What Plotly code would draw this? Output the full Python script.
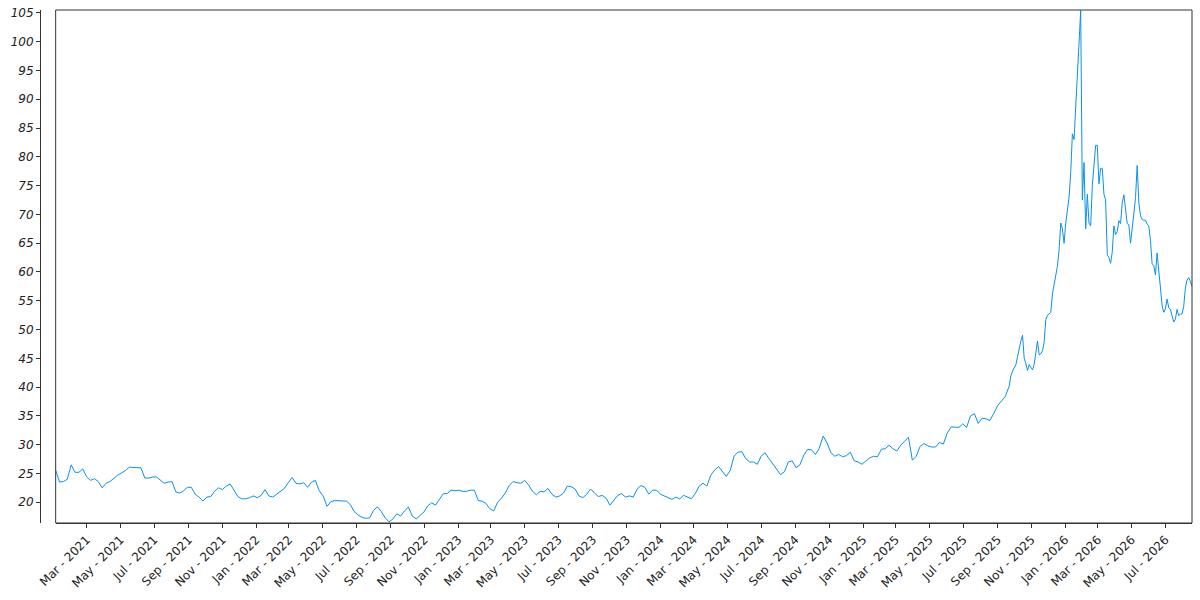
import pandas as pd
import plotly.graph_objects as go

# weekly readings, Jan 2021 -> Sep 2025
weekly_start = "2021-01-04"
weekly_vals = [
    25.6, 23.5, 23.6, 24.0, 26.5, 25.2, 25.2, 25.8, 24.4, 23.8,
    24.1, 23.6, 22.5, 23.3, 23.6, 24.2, 24.7, 25.1, 25.5, 26.1,
    26.0, 26.0, 26.0, 24.2, 24.2, 24.4, 24.4, 23.9, 23.3, 23.5,
    23.6, 21.8, 21.6, 22.0, 22.6, 22.6, 21.4, 20.9, 20.2, 20.9,
    21.0, 21.9, 22.5, 22.2, 22.8, 23.2, 22.2, 21.0, 20.6, 20.6,
    20.8, 21.1, 20.8, 21.2, 22.2, 21.1, 20.9, 21.4, 21.9, 22.4,
    23.4,
    24.3, 23.3, 23.2, 23.4, 22.6, 23.5, 23.8, 22.0, 21.1, 19.3,
    20.1, 20.3, 20.3, 20.2, 20.2, 19.6, 18.4, 17.8, 17.4, 17.2,
    17.3, 18.6, 19.2, 18.4, 17.3, 16.6, 17.1, 18.0, 17.6, 18.5,
    19.2, 17.6, 17.1, 17.7, 18.3, 19.4, 19.9, 19.5, 20.6, 21.5,
    21.5, 22.1, 22.0, 22.1, 21.9, 21.9, 22.1, 22.1, 20.3, 20.2,
    19.8, 18.9, 18.5, 20.0, 20.7, 21.6, 22.9, 23.6, 23.4, 23.3,
    23.8, 23.0,
    21.9, 21.3, 21.9, 21.8, 22.4, 21.4, 20.9, 21.1, 21.6, 22.8,
    22.7, 22.3, 21.1, 20.8, 21.4, 22.3, 21.6, 21.0, 21.2, 20.7,
    19.5, 20.3, 21.2, 21.5, 20.9, 21.1, 20.9, 22.3, 22.9, 22.6,
    21.4, 22.1, 22.1, 21.4, 21.1, 20.8, 20.5, 20.9, 20.6, 21.2,
    20.9, 20.6, 21.5, 22.8, 23.3, 22.8, 24.7, 25.6, 26.2, 25.4,
    24.5, 25.5, 28.0, 28.7, 28.8, 27.6, 27.0, 27.0, 26.6, 28.0,
    28.6, 27.6,
    26.7, 25.7, 24.8, 25.3, 27.0, 27.2, 26.0, 26.5, 28.2, 29.2,
    29.1, 28.3, 29.4, 31.5, 30.3, 28.6, 28.0, 28.3, 27.9, 28.1,
    28.7, 27.2, 27.0, 26.6, 27.1, 27.7, 28.0, 27.9, 29.2, 29.3,
    29.9, 29.3, 28.9, 29.9, 30.6, 31.3, 27.3, 28.0, 29.7, 30.2,
    29.8, 29.6, 29.6, 30.4, 30.1, 32.0, 33.1, 33.1, 33.0, 33.6,
    33.0, 35.0, 35.4, 33.7, 34.6, 34.5, 34.2, 35.4, 36.8, 37.6,
    38.4, 40.2,
]

# denser readings (every 3 days) for the spike, Sep 2025 -> Aug 2026
tail_start = "2025-09-25"
tail_vals = [
    42.0, 42.8, 43.5, 43.9, 45.3, 46.9, 48.0, 49.0, 45.0, 44.1,
    42.9, 43.9, 43.5, 43.0, 43.9, 46.5, 48.0, 45.6, 45.8, 46.3,
    47.8, 51.7, 52.5, 52.7, 53.0, 56.2, 57.9, 59.1, 61.0, 63.8,
    68.5, 67.5, 65.0, 68.5, 70.5, 73.0, 77.3, 84.0, 83.0, 88.5,
    96.0, 101.5, 105.4, 72.5, 79.0, 67.5, 73.5, 68.5, 68.0, 75.0,
    79.5, 82.0, 82.0, 75.3, 78.0, 78.0, 73.5, 72.5, 63.0, 62.5,
    61.5, 63.5, 68.0, 66.5, 67.0, 68.9, 68.4, 72.0, 73.4, 71.0,
    68.4, 68.2, 65.0, 67.5, 70.0, 72.9, 78.5, 72.0, 69.8, 69.1,
    69.0, 69.0, 68.3, 68.0, 65.5, 61.4, 61.1, 59.5, 63.3, 60.5,
    57.5, 54.2, 53.0, 53.6, 55.3, 53.8, 53.5, 52.6, 51.3, 51.8,
    53.5, 52.4, 52.7, 52.7, 54.0, 57.2, 58.6, 59.0, 58.4, 57.5,
]

dates = list(pd.date_range(weekly_start, periods=len(weekly_vals), freq="7D")) + \
        list(pd.date_range(tail_start, periods=len(tail_vals), freq="3D"))
values = weekly_vals + tail_vals

axis_col = "#333333"
font_col = "#222222"

fig = go.Figure()
fig.add_trace(go.Scatter(x=dates, y=values, mode="lines",
                         line=dict(color="#0A91E8", width=1), showlegend=False))

fig.update_layout(
    width=1200, height=600,
    margin=dict(l=40, r=8, t=6, b=77),
    plot_bgcolor="white", paper_bgcolor="white",
    font=dict(family="DejaVu Sans", size=12, color=font_col),
    xaxis=dict(
        domain=[0.0136, 1],
        range=[dates[0], dates[-1]],
        tickformat="%b - %Y", dtick="M2", tick0="2021-03-01",
        tickangle=-45, ticks="outside", ticklen=4, tickcolor=axis_col,
        showline=True, linecolor=axis_col, linewidth=1,
        showgrid=False, zeroline=False,
    ),
    yaxis=dict(
        anchor="free", position=0,
        range=[16.4, 105.5], dtick=5, tick0=0,
        ticks="outside", ticklen=4, tickcolor=axis_col,
        tickfont=dict(style="italic"),
        showline=True, linecolor=axis_col, linewidth=1,
        showgrid=False, zeroline=False,
    ),
)

# frame around the plotting area
fig.add_shape(type="rect", xref="x domain", yref="y domain",
              x0=0, x1=1, y0=0, y1=1, line=dict(color=axis_col, width=1))

# drop the browser's default body margin so the chart sits at (0, 0)
fig.write_html("out.html", config={"displayModeBar": False},
               post_script="document.body.style.margin='0';document.body.style.overflow='hidden';")
